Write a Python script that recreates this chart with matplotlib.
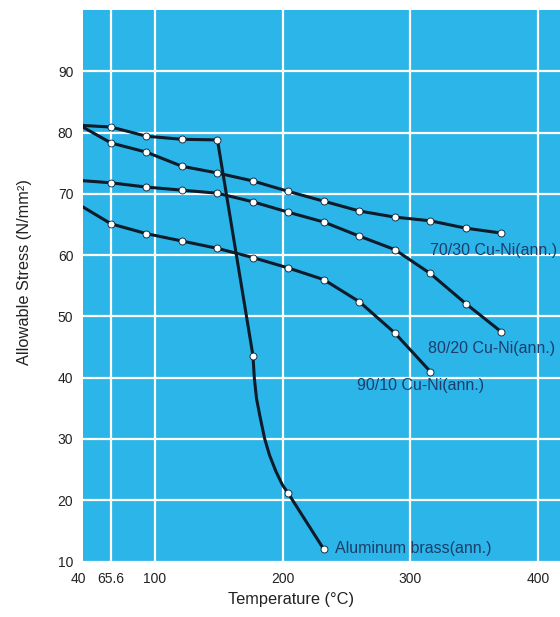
import matplotlib.pyplot as plt
from matplotlib.transforms import blended_transform_factory

# Temperaturas (pasos de 50 F convertidos a C)
temps = [40, 65.6, 93.3, 121.1, 148.9, 176.7, 204.4, 232.2, 260.0, 287.8, 315.6, 343.3, 371.1]

# Tension admisible (N/mm2)
cuni_70_30 = [81.3, 78.3, 76.8, 74.5, 73.4, 72.1, 70.4, 68.8, 67.2, 66.2, 65.6, 64.4, 63.6]
cuni_80_20 = [72.2, 71.8, 71.1, 70.6, 70.1, 68.7, 67.0, 65.4, 63.1, 60.9, 57.0, 52.1, 47.5]
cuni_90_10 = [68.3, 65.1, 63.5, 62.3, 61.1, 59.6, 57.9, 56.0, 52.4, 47.3, 41.0]
al_brass = [81.2, 80.9, 79.4, 78.9, 78.8, 43.6, 21.1, 12.0]

# puntos extra de la curva del laton (sin marcador)
al_brass_curve_t = [40, 65.6, 93.3, 121.1, 148.9, 176.7, 177.8, 179.5, 182.0, 185.8,
                    189.6, 194.7, 199.8, 204.4, 232.2]
al_brass_curve = [81.2, 80.9, 79.4, 78.9, 78.8, 43.6, 39.9, 36.6, 33.9, 30.1,
                  27.4, 24.7, 22.5, 21.1, 12.0]

x_ticks = [65.6, 100, 200, 300, 400]
x_tick_labels = ["65.6", "100", "200", "300", "400"]
y_ticks = [10, 20, 30, 40, 50, 60, 70, 80, 90]

FONDO = "#2bb5e8"
LINEA = "#0d1b2a"
TEXTO = "#222222"
ETIQ = "#1d3d6b"

plt.rcParams["font.family"] = ["Liberation Sans", "DejaVu Sans"]

fig = plt.figure(figsize=(5.6, 6.17), dpi=100)
ax = fig.add_axes([83 / 560, 55.5 / 617, 477 / 560, 551.5 / 617])
ax.set_facecolor(FONDO)
for s in ax.spines.values():
    s.set_visible(False)

ax.set_xlim(43.6, 417.2)
ax.set_ylim(10, 100)
ax.set_xticks(x_ticks)
ax.set_xticklabels(x_tick_labels)
ax.set_yticks(y_ticks)
ax.tick_params(length=0, labelsize=10, colors=TEXTO)
ax.tick_params(axis="x", pad=7.5)
ax.tick_params(axis="y", pad=7)
ax.grid(True, color="white", linewidth=1.6)
ax.set_axisbelow(True)

# etiqueta "40" fuera de los limites del eje
trans = blended_transform_factory(ax.transData, ax.transAxes)
ax.text(40, -7.5 * 100 / 72 / 551.5, "40", transform=trans, ha="center", va="top",
        fontsize=10, color=TEXTO, clip_on=False)

def curva(tx, ty):
    ax.plot(tx, ty, color=LINEA, linewidth=2.2, zorder=3)
    ax.plot(tx[1:], ty[1:], linestyle="none", marker="o", markersize=5,
            markerfacecolor="white", markeredgecolor=LINEA, markeredgewidth=0.6, zorder=4)

curva(temps, cuni_70_30)
curva(temps, cuni_80_20)
curva(temps[:len(cuni_90_10)], cuni_90_10)

ax.plot(al_brass_curve_t, al_brass_curve, color=LINEA, linewidth=2.2, zorder=3,
        solid_joinstyle="round")
ax.plot(temps[1:len(al_brass)], al_brass[1:], linestyle="none", marker="o", markersize=5,
        markerfacecolor="white", markeredgecolor=LINEA, markeredgewidth=0.6, zorder=4)

ax.text(315.4, 60.8, "70/30 Cu-Ni(ann.)", fontsize=11.5, color=ETIQ, va="center")
ax.text(313.8, 44.7, "80/20 Cu-Ni(ann.)", fontsize=11.5, color=ETIQ, va="center")
ax.text(258.2, 38.7, "90/10 Cu-Ni(ann.)", fontsize=11.5, color=ETIQ, va="center")
ax.text(241.0, 12.1, "Aluminum brass(ann.)", fontsize=11.5, color=ETIQ, va="center")

ax.set_xlabel("Temperature (°C)", fontsize=11.8, color=TEXTO)
ax.xaxis.set_label_coords(0.436, -0.055)
ax.set_ylabel("Allowable Stress (N/mm²)", fontsize=11.8, color=TEXTO)
ax.yaxis.set_label_coords(-0.107, 0.525)

fig.savefig("out.png", dpi=100)
